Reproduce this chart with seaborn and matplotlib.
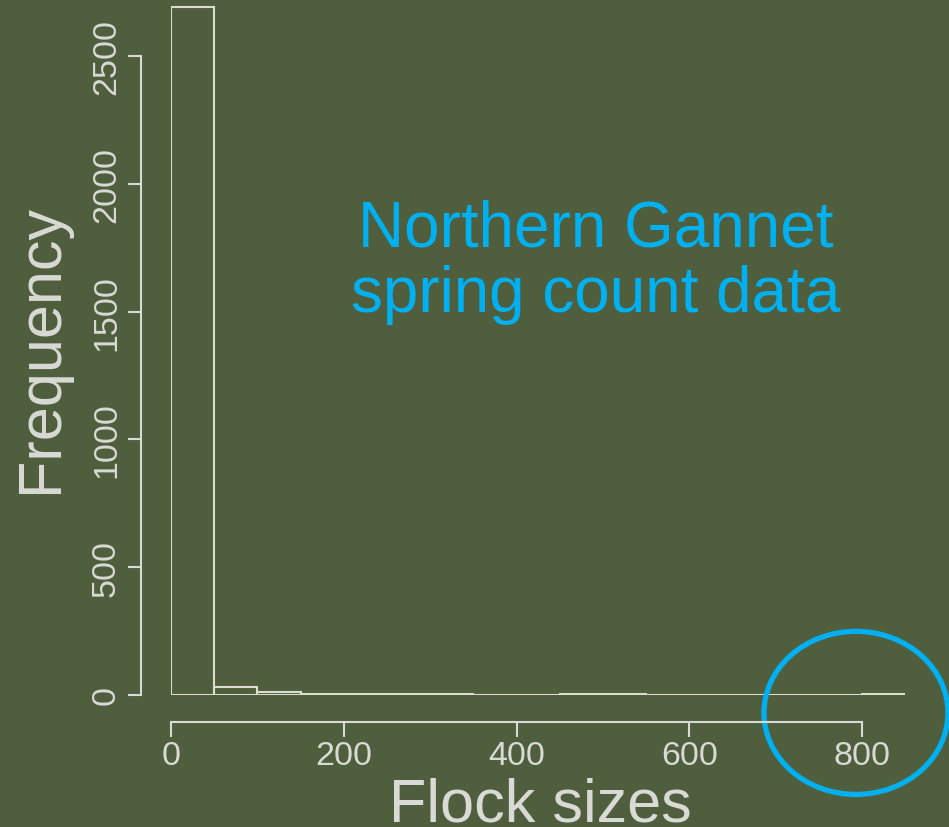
import numpy as np
import pandas as pd
import seaborn as sns
import matplotlib.pyplot as plt
from matplotlib.patches import Ellipse

# Histogram of flock sizes, bins of width 50
bin_edges = [0, 50, 100, 150, 200, 250, 300, 350, 400, 450, 500,
             550, 600, 650, 700, 750, 800, 850]
bin_counts = [2692, 31, 12, 3, 3, 3, 2, 0, 0, 2, 2, 0, 0, 0, 0, 0, 2]
x_ticks = [0, 200, 400, 600, 800]
y_ticks = [0, 500, 1000, 1500, 2000, 2500]

bg = '#4f5e3c'
fg = '#d9d9d6'
edge = '#dcdcce'
blue = '#00b0f0'

sns.set_theme(style='ticks')
plt.rcParams['font.family'] = ['Liberation Sans', 'DejaVu Sans']

df = pd.DataFrame({
    'mid': [(a + b) / 2 for a, b in zip(bin_edges[:-1], bin_edges[1:])],
    'count': bin_counts,
})

fig = plt.figure(figsize=(9.49, 8.28), dpi=100, facecolor=bg)
ax = fig.add_axes([171 / 949, 132 / 828, 734.2 / 949, 690.1 / 828])
ax.set_facecolor(bg)

sns.histplot(data=df, x='mid', weights='count', bins=bin_edges, fill=False,
             color=edge, linewidth=1.5, ax=ax)

ax.set_xlim(0, 850)
ax.set_ylim(0, 2700)
ax.set_xticks(x_ticks)
ax.set_yticks(y_ticks)

sns.despine(ax=ax, offset={'left': 21.6, 'bottom': 19.4}, trim=True)
for side in ['left', 'bottom']:
    ax.spines[side].set_color(fg)
    ax.spines[side].set_linewidth(1.5)

ax.tick_params(axis='x', colors=fg, labelsize=24.5, length=10.8, width=1.5, pad=2.5)
ax.tick_params(axis='y', colors=fg, labelsize=24.5, length=9.4, width=1.5, pad=4.3)
for lab in ax.get_yticklabels():
    lab.set_rotation(90)
    lab.set_va('center')

ax.set_xlabel('Flock sizes', fontsize=44, color=fg, va='baseline')
ax.xaxis.set_label_coords(0.503, -0.182)
ax.set_ylabel('Frequency', fontsize=44, color=fg, va='center')
ax.yaxis.set_label_coords(-0.177, 0.504)

# highlight of the tail
ax.add_patch(Ellipse((793, -70), 213, 638, fill=False, edgecolor=blue,
                     linewidth=3.8, clip_on=False))

fig.text(596 / 949, 1 - 262 / 828, 'Northern Gannet\nspring count data',
         ha='center', va='center', fontsize=46, color=blue, linespacing=1.12)

fig.savefig('out.png', dpi=100, facecolor=bg)
